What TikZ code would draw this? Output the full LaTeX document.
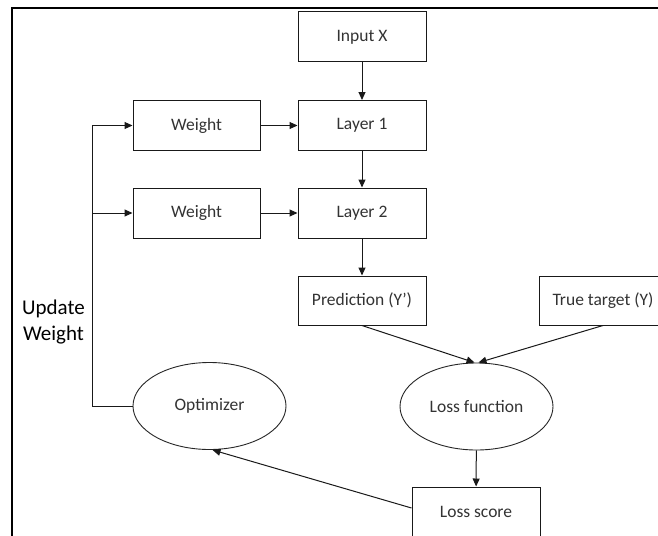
\documentclass[tikz,border=0pt]{standalone}
\usepackage{fontspec}
\setmainfont{Carlito}
\usetikzlibrary{arrows.meta,shapes.geometric}
\begin{document}
\begin{tikzpicture}[x=1pt,y=-1pt,
  box/.style={draw=black!90,line width=1pt,minimum width=128pt,minimum height=50pt,inner sep=0pt,
    font=\fontsize{17.5}{21}\selectfont,text=black!80},
  oval/.style={draw=black!85,line width=0.9pt,ellipse,minimum width=153pt,minimum height=87pt,inner sep=0pt,
    font=\fontsize{17.5}{21}\selectfont,text=black!80},
  arr/.style={draw=black!90,line width=1pt,-{Triangle[length=8pt,width=7pt]}},
  ln/.style={draw=black!90,line width=1pt}]
\clip (0,0) rectangle (658,535);
\fill[white] (0,0) rectangle (658,535);
% frame
\draw[line width=2.2pt] (12,560) -- (12,8) -- (700,8);
% nodes
\node[box] (inp) at (362,37) {Input X};
\node[box] (l1) at (362,125.5) {Layer 1};
\node[box] (l2) at (362,213) {Layer 2};
\node[box,minimum width=127pt] (w1) at (196.5,125.5) {Weight};
\node[box,minimum width=127pt] (w2) at (196.5,213) {Weight};
\node[box,minimum height=49pt] (pred) at (362,300.5) {Prediction (Y’)};
\node[box,minimum height=49pt] (tt) at (603,300.5) {True target (Y)};
\node[oval] (lf) at (476.5,406.5) {Loss function};
\node[oval] (opt) at (209.5,406) {Optimizer};
\node[box] (ls) at (476,512) {Loss score};
\node[align=center,font=\fontsize{21}{26}\selectfont] (uw) at (53.5,322) {Update\\Weight};
% connectors
\draw[arr] (inp) -- (l1);
\draw[arr] (l1) -- (l2);
\draw[arr] (l2) -- (pred);
\draw[arr] (w1) -- (l1);
\draw[arr] (w2) -- (l2);
\draw[arr] (pred.south) -- ([xshift=-2pt]lf.north);
\draw[arr] (tt.south) -- ([xshift=2pt]lf.north);
\draw[arr] (lf) -- (ls);
\draw[arr] ([yshift=4pt]ls.west) -- ([xshift=3pt]opt.south);
\coordinate (cb) at (92,406);
\draw[arr] (opt.west) -- (cb) |- (w1.west);
\draw[arr] (cb |- w2.west) -- (w2.west);
\end{tikzpicture}
\end{document}
